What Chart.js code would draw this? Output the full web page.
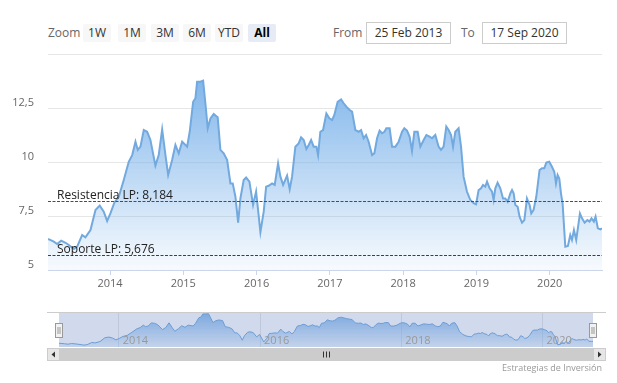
<!DOCTYPE html>
<html><head><meta charset="utf-8">
<script src="https://cdn.jsdelivr.net/npm/chart.js@4/dist/chart.umd.min.js"></script>
<style>
html,body{margin:0;padding:0;background:#fff;}
body{width:617px;height:383px;position:relative;overflow:hidden;font-family:"Open Sans",sans-serif;}
.abs{position:absolute;}
#zoomLbl{left:48px;top:24px;line-height:18px;font-size:12px;color:#666;}
.btn{position:absolute;top:24px;width:28px;height:18px;line-height:18px;text-align:center;background:#f7f7f7;font-size:12px;color:#333;border-radius:2px;}
.btn.sel{background:#e6ebf5;font-weight:bold;color:#000;}
.lbl{position:absolute;top:24px;line-height:18px;font-size:12px;color:#666;}
.box{position:absolute;top:22px;height:20px;width:83px;border:1px solid #ccc;line-height:20px;text-align:center;font-size:12px;color:#333;box-sizing:content-box;}
#credits{right:15px;top:361px;font-size:9px;color:#999;}
</style></head>
<body>
<div id="zoomLbl" class="abs">Zoom</div>
<div class="btn" style="left:83px">1W</div>
<div class="btn" style="left:118px">1M</div>
<div class="btn" style="left:151px">3M</div>
<div class="btn" style="left:183px">6M</div>
<div class="btn" style="left:215px">YTD</div>
<div class="btn sel" style="left:248px">All</div>
<div class="lbl" style="left:333px">From</div>
<div class="box" style="left:366px">25 Feb 2013</div>
<div class="lbl" style="left:461px">To</div>
<div class="box" style="left:482px">17 Sep 2020</div>
<canvas id="main" class="abs" style="left:0;top:0" width="617" height="300"></canvas>
<canvas id="nav" class="abs" style="left:0;top:300px" width="617" height="62"></canvas>
<div id="credits" class="abs">Estrategias de Inversión</div>
<script>
// ---- data (decimal years, price) ----
const time = [2013.153,2013.232,2013.278,2013.333,2013.392,2013.437,2013.505,2013.551,2013.619,2013.664,2013.733,2013.801,2013.859,2013.914,2013.960,
2014.005,2014.060,2014.119,2014.187,2014.255,2014.302,2014.347,2014.378,2014.415,2014.460,2014.506,2014.551,2014.619,2014.664,2014.711,2014.756,2014.793,2014.847,2014.892,2014.937,2014.984,
2015.052,2015.087,2015.134,2015.165,2015.188,2015.233,2015.270,2015.301,2015.333,2015.370,2015.415,2015.447,2015.469,2015.506,2015.551,2015.598,2015.643,2015.674,2015.711,2015.748,2015.779,2015.824,2015.857,2015.902,2015.952,2015.993,
2016.020,2016.052,2016.097,2016.130,2016.165,2016.211,2016.247,2016.293,2016.325,2016.362,2016.416,2016.452,2016.484,2016.529,2016.574,2016.607,2016.643,2016.679,2016.711,2016.744,2016.779,2016.816,2016.839,2016.870,2016.907,2016.952,2016.993,
2017.030,2017.061,2017.106,2017.153,2017.188,2017.225,2017.270,2017.303,2017.348,2017.393,2017.426,2017.461,2017.494,2017.529,2017.576,2017.607,2017.644,2017.679,2017.712,2017.744,2017.771,2017.816,2017.849,2017.894,2017.939,2017.985,
2018.016,2018.053,2018.089,2018.121,2018.153,2018.198,2018.235,2018.280,2018.317,2018.361,2018.394,2018.439,2018.484,2018.517,2018.552,2018.589,2018.621,2018.654,2018.681,2018.712,2018.757,2018.790,2018.825,2018.871,2018.917,2018.962,2018.995,
2019.030,2019.063,2019.090,2019.121,2019.145,2019.180,2019.213,2019.235,2019.258,2019.289,2019.326,2019.363,2019.394,2019.426,2019.463,2019.486,2019.508,2019.531,2019.563,2019.589,2019.622,2019.654,2019.690,2019.726,2019.749,2019.780,2019.817,2019.862,2019.895,2019.926,2019.954,2019.994,
2020.031,2020.063,2020.086,2020.108,2020.131,2020.154,2020.176,2020.213,2020.249,2020.281,2020.304,2020.331,2020.362,2020.413,2020.441,2020.477,2020.514,2020.544,2020.571,2020.603,2020.626,2020.657,2020.694,2020.714];
const price = [6.44,6.31,6.20,6.36,6.26,6.16,5.97,6.08,6.62,6.51,6.85,7.78,7.98,7.70,7.27,
7.62,8.13,8.39,9.17,10.01,10.32,10.94,10.56,10.71,11.48,11.40,11.02,9.83,10.32,11.51,10.32,9.40,10.09,10.79,10.40,10.94,
10.71,11.40,12.79,12.95,13.72,13.72,13.77,12.72,11.56,12.02,12.22,12.13,12.07,10.56,10.40,10.09,9.01,9.01,8.39,7.19,8.31,9.17,9.28,9.09,8.01,8.63,
7.78,6.75,7.70,8.86,8.90,9.01,8.94,9.94,9.32,8.94,9.37,8.74,9.32,10.71,10.86,11.14,11.02,10.60,10.79,11.02,10.71,10.71,10.32,11.40,11.48,12.25,12.02,
11.94,12.18,12.79,12.90,12.72,12.56,12.41,12.33,11.48,11.40,11.48,11.10,11.25,10.94,10.32,10.40,11.10,11.45,11.33,11.40,11.56,11.56,10.71,10.71,10.94,11.40,
11.56,11.45,11.17,10.51,11.40,11.40,10.71,11.02,11.25,11.17,11.10,11.25,10.71,10.56,10.71,11.64,11.48,11.25,10.71,11.40,11.56,10.71,9.32,8.63,8.24,8.09,8.04,
8.70,8.78,8.94,8.86,9.09,8.78,8.63,8.24,8.78,9.04,8.78,8.31,8.31,8.16,8.55,8.70,8.55,8.01,7.93,7.47,7.19,7.31,8.31,8.01,7.62,7.78,8.39,9.63,9.71,9.71,9.97,10.01,
9.78,9.55,9.01,9.40,9.24,8.55,8.09,6.08,6.11,6.62,6.39,6.85,6.39,7.62,7.39,7.19,7.31,7.24,7.39,7.24,7.47,6.93,6.88,6.93];
const xTickYears = [2014,2015,2016,2017,2018,2019,2020];
const navTickYears = [2014,2016,2018,2020];
const yTickValues = [5,7.5,10,12.5,15];
const yTickLabels = ['5','7,5','10','12,5',''];
const plotLineValues = [8.184,5.676];
const plotLineNames = ['Resistencia LP','Soporte LP'];
const plotLineColors = ['#1e6b2a','#8b1f24'];

const pts = time.map((t,i)=>({x:t,y:price[i]}));
const xMin = time[0], xMax = time[time.length-1];
const FONT = '"Open Sans", sans-serif';

function areaGradient(alphaTop, alphaBottom){
  return (c)=>{
    const chart=c.chart, a=chart.chartArea;
    if(!a) return 'rgba(124,181,236,0.5)';
    const top = chart.scales.y.getPixelForValue(Math.max(...price));
    const g = chart.ctx.createLinearGradient(0, top, 0, a.bottom);
    g.addColorStop(0, 'rgba(124,179,234,'+alphaTop+')');
    g.addColorStop(1, 'rgba(124,179,234,'+alphaBottom+')');
    return g;
  };
}

const plotLinesPlugin = {
  id:'plotLines',
  afterDatasetsDraw(chart){
    const {ctx, chartArea:a, scales:{y}} = chart;
    plotLineValues.forEach((v,i)=>{
      const py = Math.round(y.getPixelForValue(v))+0.5;
      ctx.save();
      ctx.strokeStyle = plotLineColors[i]; ctx.lineWidth=1; ctx.setLineDash([3,1.5]);
      ctx.beginPath(); ctx.moveTo(a.left,py); ctx.lineTo(a.right,py); ctx.stroke();
      ctx.setLineDash([]);
      ctx.fillStyle='#222'; ctx.font='12px '+FONT; ctx.textBaseline='alphabetic';
      ctx.fillText(plotLineNames[i]+': '+String(v).replace('.',','), a.left+9, py-3);
      ctx.restore();
    });
  }
};

new Chart(document.getElementById('main'), {
  type:'line',
  data:{datasets:[{data:pts, borderColor:'#72a9de', borderWidth:2, pointRadius:0, tension:0, fill:'start', backgroundColor:areaGradient(0.95,0.06)}]},
  options:{
    responsive:false, animation:false, events:[],
    layout:{padding:{left:0,right:15,top:54,bottom:0}},
    plugins:{legend:{display:false}, tooltip:{enabled:false}},
    scales:{
      x:{type:'linear', min:xMin, max:xMax,
        afterBuildTicks:s=>{s.ticks=xTickYears.map(v=>({value:v}));},
        afterFit:s=>{s.height=30;},
        grid:{drawOnChartArea:false, drawTicks:true, tickLength:5, color:'#ccd6eb'},
        border:{display:true, color:'#ccd6eb'},
        ticks:{padding:2, autoSkip:false, maxRotation:0, font:{family:FONT,size:11}, color:'#666', callback:v=>String(v)}
      },
      y:{min:5, max:15, position:'left',
        afterBuildTicks:s=>{s.ticks=yTickValues.map(v=>({value:v}));},
        afterFit:s=>{s.width=48;},
        grid:{color:'#e6e6e6', drawTicks:false},
        border:{display:false},
        ticks:{padding:14, labelOffset:-5, font:{family:FONT,size:11}, color:'#666',
          callback:(v)=>yTickLabels[yTickValues.indexOf(v)]}
      }
    }
  },
  plugins:[plotLinesPlugin]
});

const navPlugin = {
  id:'navDeco',
  afterDraw(chart){
    const {ctx, chartArea:a, scales:{x}} = chart;
    ctx.save();
    ctx.fillStyle='rgba(102,133,194,0.3)';
    ctx.fillRect(a.left, a.top, a.right-a.left, a.bottom-a.top);
    ctx.fillStyle='#999'; ctx.font='11px '+FONT; ctx.textBaseline='middle';
    navTickYears.forEach(v=>ctx.fillText(String(v), x.getPixelForValue(v)+4, a.bottom-6));
    ctx.strokeStyle='#cccccc'; ctx.lineWidth=1;
    ctx.beginPath(); ctx.moveTo(47, a.top+0.5); ctx.lineTo(606, a.top+0.5); ctx.stroke();
    // handles
    [a.left, a.right].forEach(hx=>{
      const hy = Math.round((a.top+a.bottom)/2)-7;
      const rx = Math.round(hx)-3.5;
      ctx.fillStyle='#f2f2f2'; ctx.strokeStyle='#999';
      ctx.fillRect(rx, hy+0.5, 7, 14); ctx.strokeRect(rx, hy+0.5, 7, 14);
      ctx.beginPath();
      ctx.moveTo(rx+2.5, hy+4); ctx.lineTo(rx+2.5, hy+11);
      ctx.moveTo(rx+4.5, hy+4); ctx.lineTo(rx+4.5, hy+11);
      ctx.stroke();
    });
    // scrollbar
    const sy = a.bottom+1, sh=13;
    ctx.fillStyle='#f2f2f2'; ctx.fillRect(47, sy, 559, sh);
    ctx.fillStyle='#cccccc'; ctx.fillRect(a.left, sy, a.right-a.left, sh);
    ctx.fillStyle='#e6e6e6';
    ctx.fillRect(47, sy, 13, sh); ctx.fillRect(593, sy, 13, sh);
    ctx.strokeStyle='#cccccc';
    ctx.strokeRect(47.5, sy+0.5, 12, sh-1); ctx.strokeRect(593.5, sy+0.5, 12, sh-1);
    ctx.fillStyle='#333';
    const cy = sy+sh/2;
    ctx.beginPath(); ctx.moveTo(51.5, cy); ctx.lineTo(55, cy-3); ctx.lineTo(55, cy+3); ctx.closePath(); ctx.fill();
    ctx.beginPath(); ctx.moveTo(601.5, cy); ctx.lineTo(598, cy-3); ctx.lineTo(598, cy+3); ctx.closePath(); ctx.fill();
    const mx = Math.round((a.left+a.right)/2);
    ctx.strokeStyle='#333';
    ctx.beginPath();
    [-3,0,3].forEach(d=>{ctx.moveTo(mx+d+0.5, cy-3); ctx.lineTo(mx+d+0.5, cy+3);});
    ctx.stroke();
    ctx.restore();
  }
};

new Chart(document.getElementById('nav'), {
  type:'line',
  data:{datasets:[{data:pts, borderColor:'#6fa6dc', borderWidth:1, pointRadius:0, tension:0, fill:'start', backgroundColor:areaGradient(0.9,0.15)}]},
  options:{
    responsive:false, animation:false, events:[],
    layout:{padding:{left:59,right:24,top:12,bottom:15}},
    plugins:{legend:{display:false}, tooltip:{enabled:false}},
    scales:{
      x:{type:'linear', min:xMin, max:xMax,
        afterBuildTicks:s=>{s.ticks=navTickYears.map(v=>({value:v}));},
        afterFit:s=>{s.height=0;},
        ticks:{display:false}, grid:{color:'#e6e6e6', drawTicks:false}, border:{display:false}},
      y:{display:false, min:5.5, max:14.2}
    }
  },
  plugins:[navPlugin]
});
</script>
</body></html>
